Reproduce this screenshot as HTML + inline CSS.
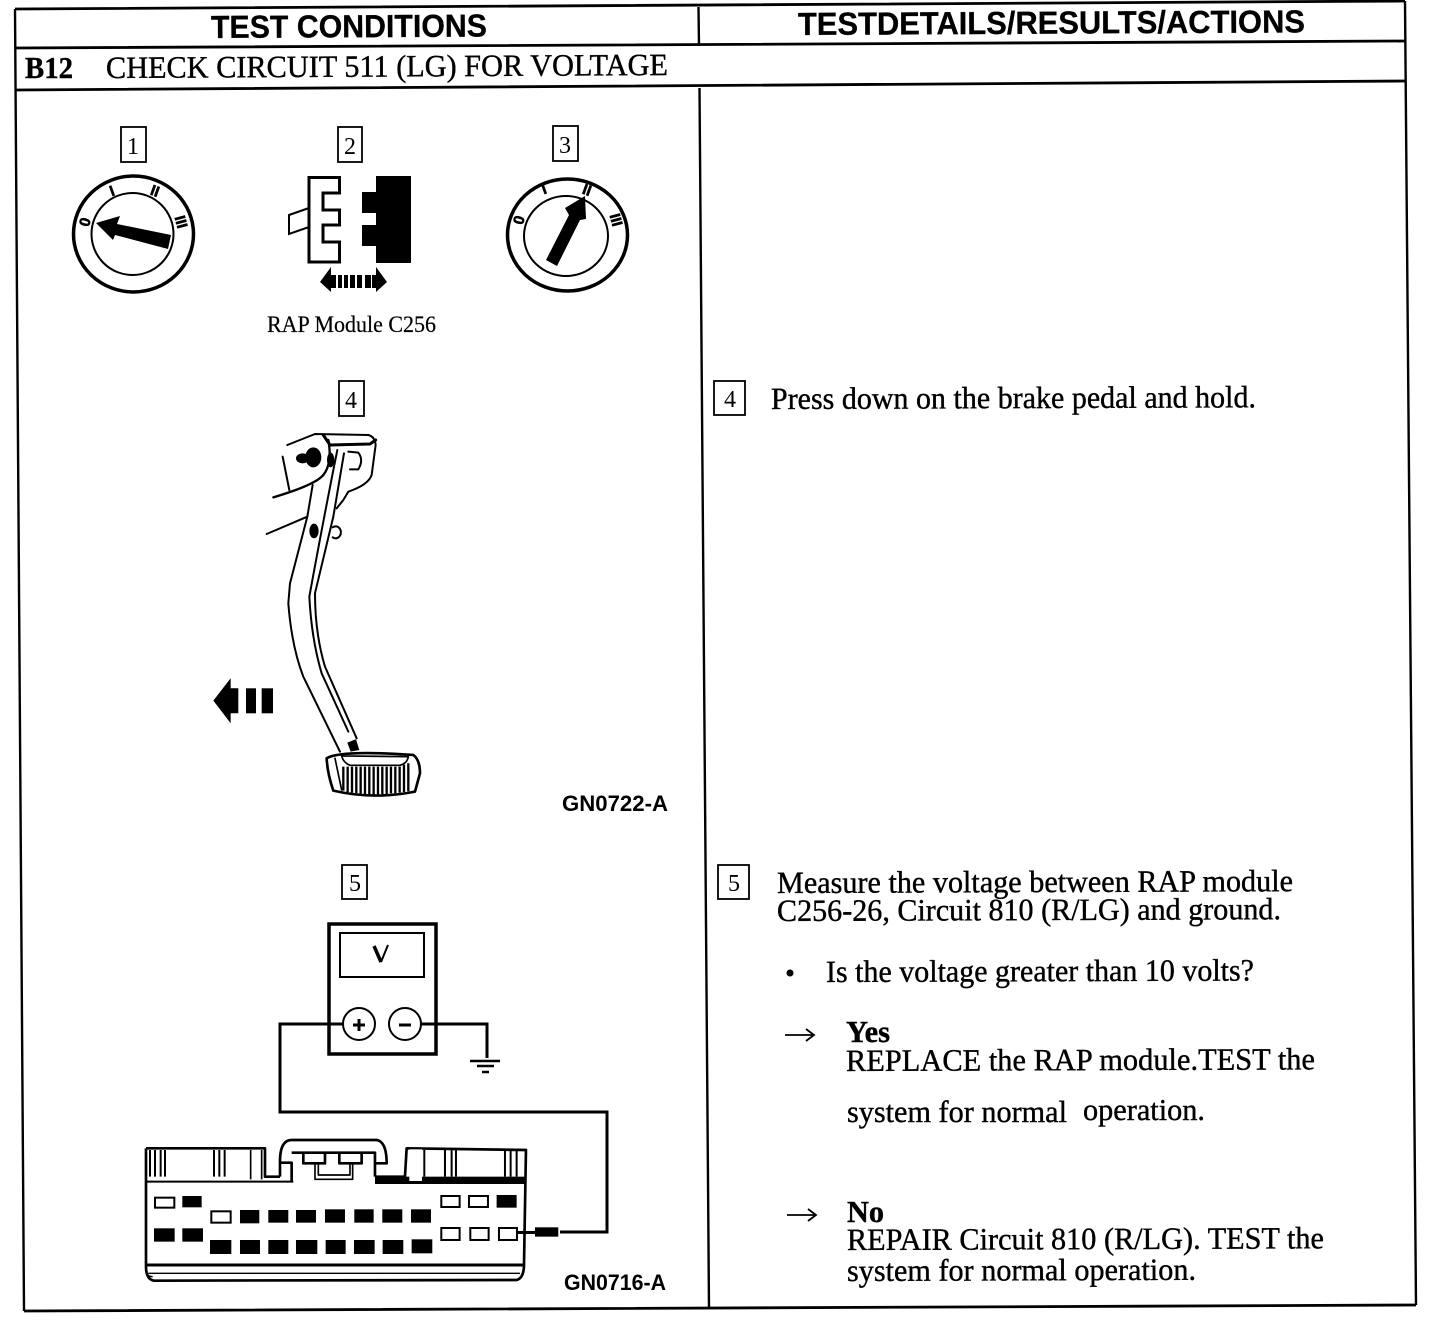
<!DOCTYPE html>
<html><head><meta charset="utf-8"><style>
html,body{margin:0;padding:0;background:#fff;width:1440px;height:1320px;overflow:hidden}
svg{display:block}
.s{font-family:"Liberation Serif",serif;font-size:31px;fill:#000;stroke:#000;stroke-width:.4}
.h{font-family:"Liberation Sans",sans-serif;font-weight:bold;font-size:32px;fill:#000;stroke:#000;stroke-width:.3}
.g{font-family:"Liberation Sans",sans-serif;font-weight:bold;font-size:22px;fill:#000}
.n{font-family:"Liberation Serif",serif;font-size:24px;fill:#000;text-anchor:middle}
.d{font-family:"Liberation Sans",sans-serif;font-weight:bold;fill:#000;stroke:#000;stroke-width:.6;text-anchor:middle}
.l{fill:none;stroke:#000;stroke-linejoin:round;stroke-linecap:round}
</style></head><body>
<svg width="1440" height="1320" viewBox="0 0 1440 1320" xmlns="http://www.w3.org/2000/svg">
<rect width="1440" height="1320" fill="#fff"/>
<!-- frame -->
<g stroke="#000" stroke-width="2.4" fill="none">
<path d="M15 9L1405 1M15 48L1405 41M16 90L1405 81M24 1311L1416 1305" stroke-width="2.8"/>
<path d="M15 9L24 1311M1405 1L1416 1305M698.5 7L699 46M699.5 88L709 1309"/>
</g>
<!-- headers -->
<text class="h" x="211" y="38" textLength="276" lengthAdjust="spacingAndGlyphs" transform="rotate(-.3 211 38)">TEST CONDITIONS</text>
<text class="h" x="798" y="35" textLength="507" lengthAdjust="spacingAndGlyphs" transform="rotate(-.3 798 35)">TESTDETAILS/RESULTS/ACTIONS</text>
<text class="s" x="25" y="78" textLength="48" lengthAdjust="spacingAndGlyphs" font-weight="bold">B12</text>
<text class="s" x="106" y="78" textLength="562" lengthAdjust="spacingAndGlyphs" transform="rotate(-.3 106 78)">CHECK CIRCUIT 511 (LG) FOR VOLTAGE</text>
<!-- number boxes -->
<g fill="#fff" stroke="#000" stroke-width="1.8">
<rect x="121" y="127" width="25" height="35"/><rect x="338" y="127" width="24" height="35"/><rect x="553" y="126" width="25" height="35"/>
<rect x="339" y="381" width="25" height="35"/><rect x="342" y="865" width="25" height="34"/>
<rect x="714" y="381" width="31" height="34"/><rect x="718" y="865" width="31" height="34"/>
</g>
<text class="n" x="133" y="154">1</text><text class="n" x="350" y="154">2</text><text class="n" x="565" y="153">3</text>
<text class="n" x="351" y="408">4</text><text class="n" x="355" y="891">5</text>
<text class="n" x="730" y="407">4</text><text class="n" x="734" y="891">5</text>
<!-- dial 1 -->
<ellipse cx="133.5" cy="234" rx="60" ry="58" fill="none" stroke="#000" stroke-width="3.5"/>
<ellipse cx="132.5" cy="234" rx="41" ry="41" fill="none" stroke="#000" stroke-width="2"/>
<polygon points="96,223 120,216 117,224 171,235 168,249 115,235 113,240" fill="#000"/>
<g class="d" font-size="15">
<text transform="translate(85 222) rotate(-75)" x="0" y="5">0</text>
<text transform="translate(112 191) rotate(-20)" x="0" y="5">I</text>
<text transform="translate(155 191) rotate(20)" x="0" y="5">II</text>
<text transform="translate(181 222) rotate(75)" x="0" y="5">III</text>
</g>
<!-- dial 3 -->
<ellipse cx="567.5" cy="235" rx="60" ry="56" fill="none" stroke="#000" stroke-width="3.5"/>
<ellipse cx="566" cy="236" rx="42" ry="40" fill="none" stroke="#000" stroke-width="2"/>
<polygon points="585,196 586,219 580,220 557,266 546,260 569,215 565,208" fill="#000"/>
<g class="d" font-size="15">
<text transform="translate(519 220) rotate(-75)" x="0" y="5">0</text>
<text transform="translate(544 189) rotate(-20)" x="0" y="5">I</text>
<text transform="translate(587 190) rotate(20)" x="0" y="5">II</text>
<text transform="translate(616 220) rotate(75)" x="0" y="5">III</text>
</g>
<!-- connector 2 -->
<path d="M309 177.500H339.500V193H323V210H339.500V225H323V242H339.500V262H309Z" fill="#fff" stroke="#000" stroke-width="3"/>
<path d="M309 208L289 215V234L309 227" fill="none" stroke="#000" stroke-width="2"/>
<path d="M376 176H411V263H376V246H362V225H376V213H362V192H376Z" fill="#000"/>
<g fill="#000">
<polygon points="320,282 331,267 331,292"/><polygon points="387,282 376,267 376,292"/>
<rect x="331" y="275" width="5" height="13"/><rect x="338" y="275" width="4" height="13"/><rect x="344" y="275" width="4" height="13"/>
<rect x="350" y="275" width="5" height="13"/><rect x="357" y="275" width="5" height="13"/><rect x="365" y="275" width="6" height="13"/><rect x="372" y="275" width="4" height="13"/>
</g>
<text class="s" x="267" y="332" textLength="169" lengthAdjust="spacingAndGlyphs" style="font-size:23px;stroke-width:.2">RAP Module C256</text>
<!-- pedal -->
<g transform="translate(200 420) scale(.3333)">
<g class="l" stroke-width="6">
<path d="M262 75L345 42L505 45Q525 50 527 75L515 165Q505 195 445 215L430 240L410 265"/>
<path d="M370 45L390 75L510 72L527 60" stroke-width="9"/>
<path d="M385 60Q398 130 370 165Q345 195 220 232" stroke-width="7"/>
<path d="M248 110L268 210"/>
<path d="M338 195L322 290L270 490L265 550Q275 680 310 770L420 995"/>
<path d="M200 342L322 290"/>
<path d="M432 100L400 290L345 520Q345 640 375 740L470 955"/>
<path d="M412 90Q370 300 328 530Q335 660 365 760L445 935"/>
<path d="M445 95L475 98Q492 120 475 148L450 148"/>
<path d="M398 322A16 18 0 1 1 398 352"/>
</g>
<ellipse cx="342" cy="333" rx="14" ry="22" fill="#000"/>
<ellipse cx="340" cy="112" rx="24" ry="30" fill="#000"/>
<ellipse cx="308" cy="115" rx="20" ry="15" fill="#000"/>
<ellipse cx="392" cy="120" rx="11" ry="22" fill="#000"/>
<path d="M442 968L468 958L478 990L452 995Z" fill="#000"/>
<path class="l" stroke-width="8" d="M380 1015Q420 990 640 1005Q660 1020 660 1060L645 1115Q520 1140 400 1112Q382 1060 380 1015Z" fill="#fff"/>
<path class="l" stroke-width="5" d="M425 1008L625 1010Q622 1030 600 1036L450 1036Q430 1028 425 1008M405 1015L425 1110"/>
<g stroke="#000" stroke-width="7">
<path d="M430 1040V1112M443 1040V1116M456 1040V1118M469 1040V1120M482 1040V1122M495 1040V1122M508 1040V1124M521 1040V1124M534 1040V1124M547 1040V1122M560 1040V1122M573 1040V1120M586 1040V1120M599 1040V1118M612 1034V1116M625 1030V1114"/>
</g>
<polygon points="40,842 92,775 92,805 115,805 115,880 92,880 92,910" fill="#000"/>
<rect x="138" y="805" width="30" height="75" fill="#000"/><rect x="185" y="805" width="34" height="75" fill="#000"/>
</g>
<text class="g" x="562" y="811" textLength="106" lengthAdjust="spacingAndGlyphs">GN0722-A</text>
<!-- meter -->
<rect x="329" y="924" width="107" height="130" fill="#fff" stroke="#000" stroke-width="3.5"/>
<rect x="340" y="933" width="84" height="44" fill="none" stroke="#000" stroke-width="2"/>
<path d="M374 946L381 962" fill="none" stroke="#000" stroke-width="3.5"/>
<path d="M381 962L388 945" fill="none" stroke="#000" stroke-width="2"/>
<path d="M343 1024H280V1112H607V1232H560M421 1024H487V1058" fill="none" stroke="#000" stroke-width="3"/>
<circle cx="359" cy="1024" r="16" fill="#fff" stroke="#000" stroke-width="2"/>
<circle cx="405" cy="1024" r="16" fill="#fff" stroke="#000" stroke-width="2"/>
<path d="M353 1025H365M359 1019V1031M399 1025H411" stroke="#000" stroke-width="3"/>
<path d="M470 1061H500" stroke="#000" stroke-width="2.500"/><path d="M477 1066H494" stroke="#000" stroke-width="2.500"/><path d="M482 1072H489" stroke="#000" stroke-width="2.500"/>
<!-- bottom connector -->
<g transform="translate(130 1120) scale(.3333)">
<g fill="none" stroke="#000" stroke-width="8" stroke-linejoin="round">
<path d="M48 85L405 85L405 170L450 170M48 85L48 440Q48 478 72 482L1160 480Q1180 475 1182 440L1188 90L830 85L825 170L735 170"/>
<path d="M450 170V125Q450 60 485 60L740 60Q770 65 770 130L735 130V170"/>
<path d="M450 128H485V185M485 98H735V130"/>
<path d="M520 98V130H585V98M628 98V130H695V98"/>
<path d="M48 435H1180" stroke-width="9"/>
<path d="M55 460H1170M48 452Q50 470 68 470" stroke-width="4"/>
<path d="M555 130V178H668V130M565 130V165H660V130" stroke-width="5"/>
<path d="M48 185H490" stroke-width="6"/>
</g>
<rect x="735" y="170" width="450" height="22" fill="#000"/>
<rect x="838" y="88" width="38" height="95" fill="#fff"/>
<path d="M362 90V178M395 90V178" stroke="#000" stroke-width="5"/>
<g stroke="#000" stroke-width="6">
<path d="M60 90V170M75 90V170M92 90V170M105 90V170M252 90V170M268 90V170M284 90V170M945 90V170M965 90V170M978 90V170M1125 90V170M1142 90V170M1160 90V170M883 90V170"/>
</g>
<g fill="#fff" stroke="#000" stroke-width="6">
<rect x="75" y="233" width="58" height="30"/><rect x="244" y="274" width="58" height="34"/>
<rect x="934" y="228" width="55" height="33"/><rect x="1017" y="228" width="57" height="33"/>
<rect x="934" y="324" width="55" height="36"/><rect x="1021" y="324" width="55" height="36"/><rect x="1107" y="324" width="54" height="36"/>
</g>
<g fill="#000">
<rect x="157" y="228" width="58" height="34"/><rect x="1100" y="225" width="60" height="38"/>
<rect x="72" y="325" width="62" height="40"/><rect x="157" y="325" width="62" height="40"/>
<rect x="330" y="270" width="58" height="40"/><rect x="415" y="270" width="60" height="38"/><rect x="498" y="270" width="60" height="38"/><rect x="585" y="268" width="60" height="40"/><rect x="673" y="268" width="58" height="40"/><rect x="757" y="268" width="60" height="40"/><rect x="843" y="268" width="60" height="40"/>
<rect x="240" y="360" width="64" height="42"/><rect x="330" y="360" width="60" height="42"/><rect x="415" y="360" width="60" height="42"/><rect x="498" y="360" width="64" height="42"/><rect x="587" y="360" width="60" height="42"/><rect x="672" y="360" width="62" height="42"/><rect x="758" y="360" width="62" height="42"/><rect x="845" y="358" width="62" height="42"/>
<rect x="1215" y="322" width="70" height="28"/>
<rect x="1163" y="333" width="60" height="9"/>
</g>
</g>
<text class="g" x="564" y="1290" textLength="102" lengthAdjust="spacingAndGlyphs">GN0716-A</text>
<!-- right text -->
<g>
<text class="s" x="771" y="409" textLength="485" lengthAdjust="spacingAndGlyphs" transform="rotate(-.2 771 409)">Press down on the brake pedal and hold.</text>
<text class="s" x="777" y="893" textLength="516" lengthAdjust="spacingAndGlyphs" transform="rotate(-.2 777 893)">Measure the voltage between RAP module</text>
<text class="s" x="777" y="921" textLength="504" lengthAdjust="spacingAndGlyphs" transform="rotate(-.2 777 921)">C256-26, Circuit 810 (R/LG) and ground.</text>
<circle cx="790" cy="973" r="3.5" fill="#000"/>
<text class="s" x="826" y="982" textLength="428" lengthAdjust="spacingAndGlyphs" transform="rotate(-.2 826 982)">Is the voltage greater than 10 volts?</text>
<path d="M785 1035H814M806 1029L814 1035L806 1041" fill="none" stroke="#000" stroke-width="1.800"/>
<text class="s" x="846" y="1042" textLength="44" lengthAdjust="spacingAndGlyphs" font-weight="bold">Yes</text>
<text class="s" x="846" y="1071" textLength="469" lengthAdjust="spacingAndGlyphs" transform="rotate(-.2 846 1071)">REPLACE the RAP module.TEST the</text>
<text class="s" x="847" y="1122" textLength="220" lengthAdjust="spacingAndGlyphs">system for normal</text>
<text class="s" x="1083" y="1120" textLength="122" lengthAdjust="spacingAndGlyphs">operation.</text>
<path d="M787 1215H816M808 1209L816 1215L808 1221" fill="none" stroke="#000" stroke-width="1.800"/>
<text class="s" x="847" y="1222" textLength="37" lengthAdjust="spacingAndGlyphs" font-weight="bold">No</text>
<text class="s" x="847" y="1250" textLength="477" lengthAdjust="spacingAndGlyphs" transform="rotate(-.2 847 1250)">REPAIR Circuit 810 (R/LG). TEST the</text>
<text class="s" x="847" y="1281" textLength="349" lengthAdjust="spacingAndGlyphs" transform="rotate(-.2 847 1281)">system for normal operation.</text>
</g>
</svg>
</body></html>
